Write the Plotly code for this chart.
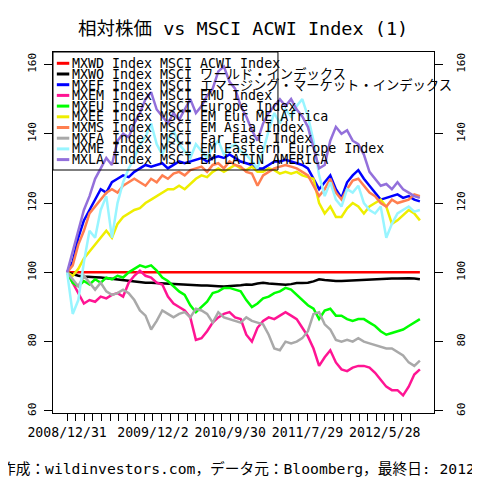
import plotly.graph_objects as go

# ---------------- data (sampled every 15 trading days) ----------------
step_days = 15
n_points = 64
days = [i * step_days for i in range(n_points)]

names = [
    "MXWD Index MSCI ACWI Index",
    "MXWO Index MSCI ワールド・インデックス",
    "MXEF Index MSCI エマージング・マーケット・インデックス",
    "MXEM Index MSCI EMU Index",
    "MXEU Index MSCI Europe Index",
    "MXEE Index MSCI EM Eur ME Africa",
    "MXMS Index MSCI EM Asia Index",
    "MXFA Index MSCI Far East Index",
    "MXME Index MSCI EM Eastern Europe Index",
    "MXLA Index MSCI EM LATIN AMERICA",
]
colors = ["#FF0000", "#000000", "#0000FF", "#FF1493", "#00FF00",
          "#EEEE00", "#FF7F50", "#A9A9A9", "#98F5FF", "#9370DB"]

acwi = [100.0] * n_points
world = [100, 99.5, 99, 98.8, 98.8, 98.6, 98.5, 98.3, 98.0, 97.8, 97.6, 97.4, 97.3, 97.2, 97.0, 97.0,
         96.9, 96.8, 96.6, 96.6, 96.5, 96.4, 96.3, 96.3, 96.2, 96.2, 96.0, 96.0, 95.9, 96.0, 96.0, 96.3,
         96.5, 96.4, 96.8, 97.0, 96.8, 96.6, 96.6, 96.4, 96.6, 96.9, 96.9, 97.0, 97.4, 98.0, 97.8, 97.6,
         97.5, 97.5, 97.6, 97.6, 97.7, 97.9, 98.0, 98.0, 98.0, 98.1, 98.2, 98.2, 98.3, 98.3, 98.2, 98.0]
em = [100, 103, 110, 115, 118, 121, 124, 123, 126, 127, 128, 127.5, 129, 130, 131, 130.5,
      131, 131.5, 130, 131, 132, 131.5, 132, 132.5, 133, 132, 133, 133.5, 133, 134, 133, 132,
      131.5, 131, 130, 130, 131, 132, 132, 132.5, 132, 131.5, 131, 130, 127, 124, 126, 128,
      124, 121.5, 126, 128, 129.5, 127, 125, 123, 121, 121.5, 122, 122.5, 121.5, 122, 121, 120.5]
emu = [100, 97, 94, 91, 92, 91.5, 93, 92.5, 93.5, 94, 93, 97, 99, 100.5, 99, 98.5,
       97, 96.5, 93, 91, 90, 89, 87, 80.5, 81, 83, 85.5, 87, 88, 88.5, 87, 86.5,
       82, 80, 84, 86, 87, 86.5, 87.5, 88.5, 87.5, 86.5, 84, 81.5, 78, 73, 75.5, 77.5,
       74, 72, 71.5, 72.5, 73, 73, 72.5, 71, 69, 67, 66, 66, 64.5, 67, 70.5, 72]
europe = [100, 97, 96, 97.5, 96.5, 98, 97, 98.5, 98, 99, 98.5, 100, 101, 102, 101.5, 102,
          100.5, 98.5, 97.5, 96, 94.5, 93.5, 90.5, 88.5, 90, 91.5, 94, 94.5, 95.5, 95.5, 95, 94.5,
          92, 90, 91, 92.5, 93, 94, 94.5, 95.5, 95, 93.5, 92, 90.5, 89.5, 86.5, 89, 89.5,
          87.5, 87.5, 86.5, 86, 86.5, 86.5, 85.5, 84.5, 83, 82, 82.5, 83, 83.5, 84.5, 85.5, 86.5]
emea = [100, 99, 101, 104, 106, 108, 110, 112, 110, 114, 116, 117, 118, 118.5, 120, 121,
        122, 123, 124, 124, 125, 124, 125.5, 127, 128, 127.5, 129, 130, 129, 130, 131, 130,
        129.5, 130.5, 129, 129, 130, 129.5, 128.5, 129, 128.5, 129, 128, 127.5, 127, 120, 117, 119,
        116, 116, 118.5, 120, 119, 117, 119, 120, 121, 119, 114, 115, 116.5, 118, 117, 115]
asia = [100, 102, 108, 112, 117, 119, 121, 123, 124, 123, 125, 126, 127, 126, 125, 127,
        126, 128, 127, 128.5, 129, 128, 129.5, 130, 130.5, 129, 131, 131.5, 130, 132, 131, 130.5,
        129, 128.5, 125, 128, 129, 130, 130.5, 131, 130.5, 130, 129, 128, 125, 122, 124, 127,
        123, 121, 124, 126.5, 127, 125, 123, 122, 120, 119, 121, 120, 120.5, 121, 122.5, 122]
fareast = [100, 98, 96, 99, 97, 95, 97, 94.5, 93.5, 94, 95, 94, 92, 89, 87.5, 83.5,
           86, 89, 88, 87, 88, 88.5, 87, 89.5, 89, 88, 85.5, 88.5, 87, 86.5, 86, 85.5,
           87, 86, 85.5, 85, 82, 78, 77.5, 80, 79.5, 80, 81, 83, 88, 88.5, 85, 83.5,
           80.5, 80, 80.5, 80, 81, 80, 79.5, 79, 78.5, 78, 78, 77, 76, 74, 73, 74.5]
easteu = [100, 88, 92, 103, 112, 110, 118, 122, 110, 120, 126, 130, 133, 137, 139, 143,
          137, 134, 138, 141, 137, 135, 133, 137, 135, 133, 136, 138, 134, 136, 137, 135,
          134, 132, 130, 135, 141, 146, 143, 147, 145, 148, 150, 145, 138, 128, 122, 126,
          121, 119, 124, 123, 125, 120, 118, 117, 119, 110, 114, 117, 118, 119, 117.5, 118]
latam = [100, 106, 112, 118, 122, 127, 130, 133, 131, 138, 140, 139, 143, 146, 150, 152,
         147, 145, 143, 146, 144, 147, 150, 146, 148, 151, 153, 158, 159.4, 155, 153, 148,
         145, 141, 138, 143, 146, 148, 150, 148, 150, 147, 145, 142, 136, 130, 131, 138,
         142, 140, 141, 138, 137, 134, 129, 127, 125, 125.5, 124, 126, 124, 123, 122, 121.5]

series = [acwi, world, em, emu, europe, emea, asia, fareast, easteu, latam]

# x ticks every 23 trading days, labelled where room allows
tick_days = [k * 23 for k in range(41)]
tick_labels = {0: "2008/12/31", 10: "2009/12/2", 19: "2010/9/30", 28: "2011/7/29", 37: "2012/5/28"}
y_ticks = [60, 80, 100, 120, 140, 160]

title_text = "相対株価 vs MSCI ACWI Index (1)"
caption_text = "作成：wildinvestors.com，データ元：Bloomberg，最終日: 2012/10/12"

# ---------------- layout constants (page pixel coordinates) ----------------
OFF = 8                     # default page margin around the plot div
W, H = 480 - OFF, 480 - OFF
PX_L, PX_R, PX_T, PX_B = 53, 451, 52, 413
FONT = "DejaVu Sans Mono, Noto Sans CJK JP, monospace"


def pxx(px):
    return (px - PX_L) / (PX_R - PX_L)


def pxy(py):
    return (PX_B - py) / (PX_B - PX_T)


fig = go.Figure()
for name, col, vals in zip(names, colors, series):
    fig.add_trace(go.Scatter(x=days, y=vals, mode="lines", name=name,
                             line=dict(color=col, width=2.5), showlegend=False,
                             hoverinfo="skip"))
# empty trace to activate the right-hand axis
fig.add_trace(go.Scatter(x=[], y=[], yaxis="y2", showlegend=False))

yr = [59.4, 163.6]
fig.update_layout(
    width=W, height=H,
    margin=dict(l=PX_L - OFF, r=480 - PX_R, t=PX_T - OFF, b=480 - PX_B, pad=0),
    paper_bgcolor="white", plot_bgcolor="white",
    font=dict(family=FONT, color="black"),
    xaxis=dict(range=[-37.8, 982.8], tickvals=tick_days,
               ticktext=[tick_labels.get(k, "") for k in range(len(tick_days))],
               ticks="outside", ticklen=7, tickcolor="black", tickwidth=1,
               showgrid=False, zeroline=False, showline=True, linecolor="black",
               linewidth=1, mirror=True, tickangle=0,
               tickfont=dict(size=13.2, family=FONT)),
    yaxis=dict(range=yr, tickvals=y_ticks, ticks="outside", ticklen=8,
               tickcolor="black", showgrid=False, zeroline=False, showline=True,
               linecolor="black", linewidth=1, mirror=True, tickangle=-90,
               ticklabelstandoff=4,
               tickfont=dict(size=11, family=FONT)),
    yaxis2=dict(range=yr, tickvals=y_ticks, overlaying="y", side="right",
                ticks="outside", ticklen=8, tickcolor="black", showgrid=False,
                zeroline=False, showline=False, tickangle=-90,
                ticklabelstandoff=9,
                tickfont=dict(size=11, family=FONT)),
)

# legend (R style, compact rows)
shapes = [dict(type="rect", xref="paper", yref="paper", x0=pxx(53), x1=pxx(288),
               y0=pxy(170), y1=pxy(52), line=dict(color="black", width=1))]
annots = []
for k, (name, col) in enumerate(zip(names, colors)):
    yy = 63.3 + 10.7 * k
    shapes.append(dict(type="line", xref="paper", yref="paper", x0=pxx(57), x1=pxx(70),
                       y0=pxy(yy), y1=pxy(yy), line=dict(color=col, width=3)))
    annots.append(dict(text=name, xref="paper", yref="paper", x=pxx(71), y=pxy(yy),
                       xanchor="left", yanchor="middle", showarrow=False,
                       font=dict(size=13.3, family=FONT, color="black")))
annots.append(dict(text=title_text, xref="paper", yref="paper", x=pxx(251.5), y=pxy(28.5),
                   xanchor="center", yanchor="middle", showarrow=False,
                   font=dict(size=18.5, family=FONT, color="black")))
annots.append(dict(text=caption_text, xref="paper", yref="paper", x=pxx(-3), y=pxy(468),
                   xanchor="left", yanchor="middle", showarrow=False,
                   font=dict(size=14.7, family=FONT, color="black")))
fig.update_layout(shapes=shapes, annotations=annots)

fig.write_html("out.html")
